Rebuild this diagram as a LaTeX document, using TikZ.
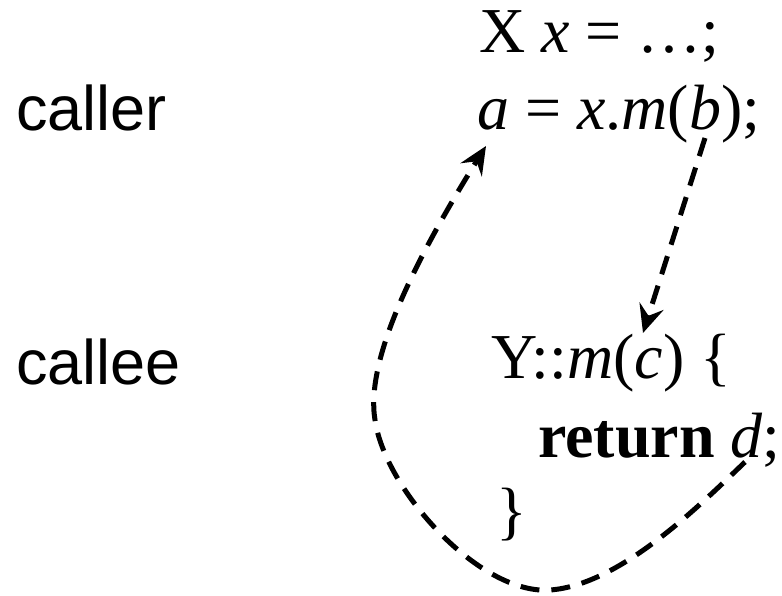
\documentclass[tikz,border=0pt]{standalone}
\usepackage{fontspec}
\setmainfont{Liberation Serif}
\newfontfamily\rolefont{Liberation Sans}
\usetikzlibrary{arrows.meta,calc}

\begin{document}
\begin{tikzpicture}[x=1pt,y=-1pt,
	arr/.style={-{Stealth[length=28pt,width=25pt,inset=10pt]}, line width=5pt, dash pattern=on 19pt off 12pt},
	code/.style={anchor=base west, inner sep=0pt, font=\fontsize{64}{76}\selectfont},
	role/.style={anchor=base west, inner sep=0pt, font=\rolefont\fontsize{63}{75}\selectfont}]
	\useasboundingbox (0,0) rectangle (782,596);
	% side labels
	\node[role] (caller) at (16,131) {caller};
	\node[role] (callee) at (16,384) {callee};
	% caller code
	\node[code] (decl) at (479,53) {X \textit{x} = \dots;};
	\node[code] (call) at (477,130) {\textit{a} = \textit{x}.\textit{m}(\textit{b});};
	% callee code
	\node[code] (sig) at (491,378) {Y::\textit{m}(\textit{c}) \{};
	\node[code] (ret) at (538,457) {\textbf{return} \textit{d};};
	\node[code] (close) at (496,532) {\}};
	% arrow ends
	\coordinate (bout) at (705,138);
	\coordinate (cin) at (643,333);
	\coordinate (dout) at (745,462);
	\coordinate (ain) at (486,146);
	\draw[arr] (bout) -- (cin);
	\draw[arr] (dout) .. controls (700,505) and (620,585) .. (550,590)
		.. controls (480,595) and (385,490) .. (375,420)
		.. controls (365,360) and (415,260) .. (ain);
\end{tikzpicture}
\end{document}
